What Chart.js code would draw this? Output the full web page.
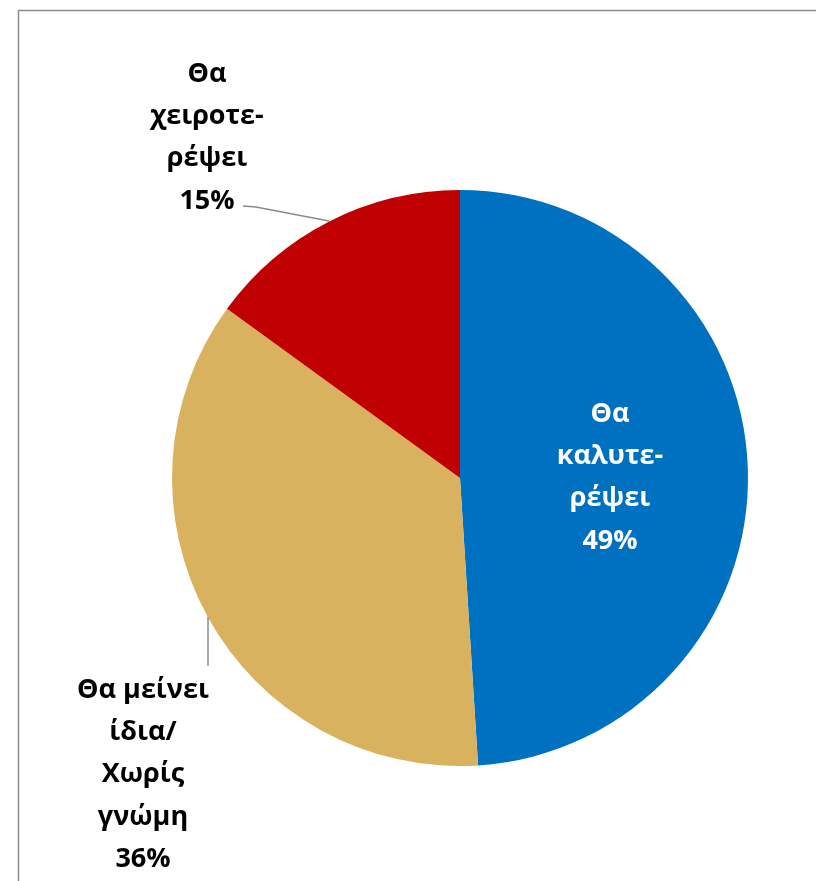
<!DOCTYPE html>
<html>
<head>
<meta charset="utf-8">
<script src="https://cdn.jsdelivr.net/npm/chart.js@4/dist/chart.umd.min.js"></script>
<style>
  html, body { margin: 0; padding: 0; background: #ffffff; }
  #wrap { position: relative; width: 816px; height: 881px; }
</style>
</head>
<body>
<div id="wrap"><canvas id="c" width="816" height="881"></canvas></div>
<script>
const categories = ["Θα καλυτε-ρέψει", "Θα μείνει ίδια/ Χωρίς γνώμη", "Θα χειροτε-ρέψει"];
const values = [49, 36, 15];
const labelLines = [
  ["Θα", "καλυτε-", "ρέψει", "49%"],
  ["Θα μείνει", "ίδια/", "Χωρίς", "γνώμη", "36%"],
  ["Θα", "χειροτε-", "ρέψει", "15%"]
];
const colors = ["#0070C0", "#D9B25F", "#C00000"];

const FONT = "bold 27px 'Open Sans', 'Noto Sans', 'DejaVu Sans', sans-serif";

const framePlugin = {
  id: 'frame',
  beforeDraw(chart) {
    const ctx = chart.ctx;
    ctx.save();
    ctx.fillStyle = '#ffffff';
    ctx.fillRect(0, 0, chart.width, chart.height);
    ctx.strokeStyle = '#8a8a8a';
    ctx.lineWidth = 1.5;
    ctx.strokeRect(18.5, 10.5, 1000, 1000);
    ctx.restore();
  }
};

// label placement relative to pie centre (in px) and leader lines
const labelCfg = [
  { dx: 150, dy: -64, color: '#ffffff', leader: null },
  { dx: -317, dy: 212, color: '#000000', leader: [[-252, 139], [-252, 188]] },
  { dx: -253, dy: -404, color: '#000000', leader: [[-217, -272], [-204, -271], [-131, -257]] }
];

const labelPlugin = {
  id: 'sliceLabels',
  afterDatasetsDraw(chart) {
    const ctx = chart.ctx;
    const meta = chart.getDatasetMeta(0);
    const arc = meta.data[0];
    const cx = arc.x, cy = arc.y;
    ctx.save();
    ctx.font = FONT;
    ctx.textAlign = 'center';
    ctx.textBaseline = 'middle';
    labelCfg.forEach((cfg, i) => {
      const lines = labelLines[i];
      ctx.fillStyle = cfg.color;
      lines.forEach((t, k) => {
        ctx.fillText(t, cx + cfg.dx, cy + cfg.dy + k * 42.3);
      });
      if (cfg.leader) {
        ctx.strokeStyle = '#8a8a8a';
        ctx.lineWidth = 1.5;
        ctx.beginPath();
        cfg.leader.forEach((p, j) => {
          if (j === 0) ctx.moveTo(cx + p[0], cy + p[1]);
          else ctx.lineTo(cx + p[0], cy + p[1]);
        });
        ctx.stroke();
      }
    });
    ctx.restore();
  }
};

new Chart(document.getElementById('c'), {
  type: 'pie',
  data: {
    labels: categories,
    datasets: [{
      data: values,
      backgroundColor: colors,
      borderWidth: 0
    }]
  },
  options: {
    responsive: false,
    animation: false,
    layout: { padding: { left: 172, right: 68, top: 190, bottom: 115 } },
    plugins: {
      legend: { display: false },
      tooltip: { enabled: false },
      title: { display: false }
    }
  },
  plugins: [framePlugin, labelPlugin]
});
</script>
</body>
</html>
